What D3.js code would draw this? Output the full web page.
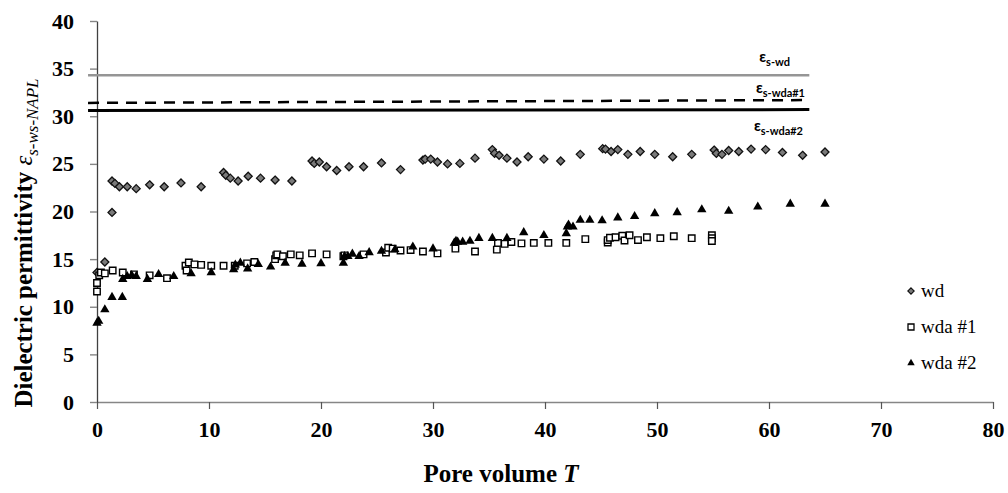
<!DOCTYPE html>
<html>
<head>
<meta charset="utf-8">
<script src="https://cdn.jsdelivr.net/npm/d3@7"></script>
<style>
  body { margin: 0; background: #fff; }
  svg { display: block; }
  .serif { font-family: "Liberation Serif", "Tinos", "DejaVu Serif", "Noto Serif", serif; }
</style>
</head>
<body>
<div id="chart"></div>
<script>
var width = 1008;
var height = 493;

// series: wd (grey diamonds)
var wdX = [0, 0.7, 1.34, 1.34, 1.6, 2.0, 2.7, 3.5, 4.7, 6.0, 7.5, 9.3, 11.3, 11.5, 11.9, 12.6, 13.5, 14.6, 15.9, 17.4,
           19.2, 19.4, 19.85, 20.5, 21.4, 22.5, 23.8, 25.4, 27.1, 29.1, 29.3, 29.8, 30.4, 31.3, 32.4, 33.75,
           35.3, 35.5, 35.9, 36.6, 37.5, 38.5, 39.9, 41.4, 43.15, 45.15, 45.4, 45.9, 46.5, 47.4, 48.5, 49.8,
           51.4, 53.1, 55.1, 55.3, 55.8, 56.4, 57.3, 58.4, 59.7, 61.2, 63.0, 65.0];
var wdY = [13.6, 14.7, 19.9, 23.2, 22.95, 22.6, 22.6, 22.4, 22.8, 22.6, 23.0, 22.6, 24.1, 23.8, 23.5, 23.2, 23.7, 23.5, 23.3, 23.2,
           25.3, 25.05, 25.2, 24.7, 24.3, 24.7, 24.7, 25.1, 24.4, 25.4, 25.5, 25.5, 25.2, 25.0, 25.05, 25.6,
           26.5, 26.1, 25.9, 25.6, 25.2, 25.75, 25.5, 25.3, 26.0, 26.6, 26.55, 26.3, 26.5, 26.0, 26.3, 26.0,
           25.75, 26.0, 26.45, 26.1, 26.0, 26.4, 26.3, 26.55, 26.5, 26.2, 25.9, 26.25];

// series: wda #1 (open squares)
var wda1X = [0, 0, 0.2, 0.35, 0.7, 1.4, 2.3, 3.3, 4.7, 6.25, 7.9, 8.0, 8.2, 8.7, 9.3, 10.2, 11.3, 12.3, 13.4, 14.05,
             15.9, 16.0, 16.1, 16.6, 17.3, 18.1, 19.2, 20.5, 22.0, 22.1, 23.8, 25.8, 26.0, 26.4, 27.1, 28.0, 29.1,
             30.4, 32.0, 33.75, 35.7, 35.8, 36.4, 37.0, 37.9, 39.0, 40.3, 41.9, 43.6, 45.6, 45.6, 45.8, 46.3, 46.9,
             47.1, 47.55, 48.3, 49.1, 50.3, 51.5, 53.1, 54.9, 54.9, 54.9];
var wda1Y = [11.6, 12.5, 13.3, 13.6, 13.5, 13.8, 13.6, 13.4, 13.3, 13.0, 14.3, 13.8, 14.65, 14.45, 14.4, 14.3, 14.3, 14.3, 14.55, 14.7,
             15.0, 15.4, 15.5, 15.3, 15.5, 15.4, 15.6, 15.5, 15.3, 15.4, 15.5, 15.7, 16.2, 16.1, 15.9, 15.95, 15.8,
             15.6, 16.1, 15.8, 16.0, 16.7, 16.6, 16.8, 16.65, 16.7, 16.7, 16.7, 17.1, 16.75, 17.0, 17.25, 17.3, 17.45,
             16.95, 17.5, 17.0, 17.3, 17.2, 17.4, 17.2, 17.5, 17.2, 16.9];

// series: wda #2 (black triangles)
var wda2X = [0, 0.15, 0.7, 1.34, 2.26, 2.3, 2.7, 3.1, 3.5, 4.5, 5.5, 6.85, 8.4, 10.2, 12.2, 12.35, 12.8, 13.45, 14.4, 15.5,
             16.8, 18.3, 20.0, 22.0, 22.1, 22.4, 22.8, 23.4, 24.3, 25.4, 26.6, 28.2, 30.0, 31.9, 32.05, 32.2, 32.65,
             33.3, 34.1, 35.3, 36.6, 38.1, 39.9, 41.9, 42.0, 42.1, 42.5, 43.15, 44.0, 45.1, 46.5, 48.0, 49.8, 51.8,
             54.0, 56.4, 59.0, 61.9, 65.0];
var wda2Y = [8.4, 8.6, 9.8, 11.1, 11.1, 13.0, 13.3, 13.4, 13.3, 13.0, 13.5, 13.3, 13.6, 13.7, 14.0, 14.5, 14.7, 14.1, 14.55, 14.3,
             14.7, 14.6, 14.65, 14.7, 15.4, 15.4, 15.65, 15.4, 15.8, 15.95, 16.1, 16.4, 16.2, 16.8, 17.0, 16.9, 16.9,
             17.0, 17.3, 17.3, 17.3, 17.9, 17.6, 17.8, 18.5, 18.7, 18.5, 19.2, 19.2, 19.15, 19.45, 19.6, 19.9, 20.0,
             20.3, 20.15, 20.6, 20.9, 20.9];

// reference levels (start/end value), from left to right end of line
var refNames = ["s-wd", "s-wda#1", "s-wda#2"];
var refStart = [34.3, 31.4, 30.6];
var refEnd = [34.3, 31.7, 30.7];
var refRange = [-0.8, 63.6];

var xTicks = [0, 10, 20, 30, 40, 50, 60, 70, 80];
var yTicks = [0, 5, 10, 15, 20, 25, 30, 35, 40];
var legendNames = ["wd", "wda #1", "wda #2"];

var svg = d3.select("#chart")
    .append("svg")
    .attr("width", width)
    .attr("height", height);

var x = d3.scaleLinear().domain([0, 80]).range([97, 993]);
var y = d3.scaleLinear().domain([0, 40]).range([402, 21]);

// axes
var xAxis = svg.append("g")
    .attr("transform", "translate(0," + y(0) + ")")
    .call(d3.axisBottom(x).tickValues(xTicks).tickSize(7).tickSizeOuter(0).tickPadding(12));
xAxis.attr("font-family", null).attr("class", "serif");
xAxis.select(".domain").attr("stroke", "#868686").attr("stroke-width", 1.6);
xAxis.selectAll(".tick line").attr("stroke", "#555").attr("stroke-width", 1.2);
xAxis.selectAll(".tick text")
    .attr("fill", "#000")
    .style("font-weight", "bold")
    .style("font-size", "22px");

var yAxis = svg.append("g")
    .attr("transform", "translate(" + x(0) + ",0)")
    .call(d3.axisLeft(y).tickValues(yTicks).tickSize(7).tickSizeOuter(0).tickPadding(16));
yAxis.attr("font-family", null).attr("class", "serif");
yAxis.select(".domain").attr("stroke", "#404040").attr("stroke-width", 1.3);
yAxis.selectAll(".tick line").attr("stroke", "#868686").attr("stroke-width", 1.4);
yAxis.selectAll(".tick text")
    .attr("fill", "#000")
    .style("font-weight", "bold")
    .style("font-size", "22px");

// reference lines
var refStyles = [
    {stroke: "#959595", width: 2.5, dash: null},
    {stroke: "#000", width: 2.5, dash: "11,8"},
    {stroke: "#000", width: 3, dash: null}
];
refNames.forEach(function(n, i){
    svg.append("line")
        .attr("x1", x(refRange[0])).attr("x2", x(refRange[1]))
        .attr("y1", y(refStart[i])).attr("y2", y(refEnd[i]))
        .attr("stroke", refStyles[i].stroke)
        .attr("stroke-width", refStyles[i].width)
        .attr("stroke-dasharray", refStyles[i].dash);
});

// reference labels
var labelPos = [[790, 62], [805, 93], [803, 131]];
refNames.forEach(function(n, i){
    var t = svg.append("text")
        .attr("x", labelPos[i][0])
        .attr("y", labelPos[i][1])
        .attr("text-anchor", "end")
        .style("font-family", "Lato, 'Open Sans', sans-serif")
        .style("font-weight", "bold");
    t.append("tspan").style("font-size", "15px").text("ε");
    t.append("tspan").attr("dy", 4).style("font-size", "11px").text(n);
});

// markers
var diamond = "M0,-4L4,0L0,4L-4,0Z";
var square = d3.symbol().type(d3.symbolSquare).size(42);
var triangle = d3.symbol().type(d3.symbolTriangle).size(38);

svg.append("g").selectAll("path")
    .data(wdX.map(function(d, i){ return [d, wdY[i]]; }))
    .enter().append("path")
    .attr("transform", function(d){ return "translate(" + x(d[0]) + "," + y(d[1]) + ")"; })
    .attr("d", diamond)
    .attr("fill", "#7a7a7a")
    .attr("stroke", "#111")
    .attr("stroke-width", 1.3);

svg.append("g").selectAll("path")
    .data(wda1X.map(function(d, i){ return [d, wda1Y[i]]; }))
    .enter().append("path")
    .attr("transform", function(d){ return "translate(" + x(d[0]) + "," + y(d[1]) + ")"; })
    .attr("d", square)
    .attr("fill", "#fff")
    .attr("stroke", "#000")
    .attr("stroke-width", 1.4);

svg.append("g").selectAll("path")
    .data(wda2X.map(function(d, i){ return [d, wda2Y[i]]; }))
    .enter().append("path")
    .attr("transform", function(d){ return "translate(" + x(d[0]) + "," + (y(d[1]) + 1) + ")"; })
    .attr("d", triangle)
    .attr("fill", "#000");

// legend
var legendY = [291, 327, 363];
var legendSym = [
    function(g){ g.append("path").attr("d", "M0,-3.2L3.2,0L0,3.2L-3.2,0Z").attr("fill", "#7a7a7a").attr("stroke", "#111").attr("stroke-width", 1.1); },
    function(g){ g.append("path").attr("d", d3.symbol().type(d3.symbolSquare).size(36)).attr("fill", "#fff").attr("stroke", "#000").attr("stroke-width", 1.3); },
    function(g){ g.append("path").attr("d", d3.symbol().type(d3.symbolTriangle).size(24)).attr("fill", "#000"); }
];
legendNames.forEach(function(n, i){
    var g = svg.append("g").attr("transform", "translate(911," + legendY[i] + ")");
    legendSym[i](g);
    svg.append("text")
        .attr("class", "serif")
        .attr("x", 921)
        .attr("y", legendY[i] + 6)
        .style("font-size", "19px")
        .text(n);
});

// axis titles (squeezed horizontally to the width of the original serif title)
var yt = svg.append("text")
    .attr("class", "serif")
    .attr("text-anchor", "middle")
    .style("font-weight", "bold")
    .style("font-size", "25px");
yt.append("tspan").text("Dielectric permittivity ");
yt.append("tspan").style("font-style", "italic").style("font-weight", "normal").text("ε");
yt.append("tspan").attr("dy", 6).style("font-style", "italic").style("font-weight", "normal").style("font-size", "17px").text("s-ws-NAPL");
var ytLen = yt.node().getComputedTextLength();
var ytScale = Math.min(1, 329 / ytLen);
yt.attr("transform", "translate(32,243) rotate(-90) scale(" + ytScale + ",1)");

var xt = svg.append("text")
    .attr("class", "serif")
    .attr("x", 501)
    .attr("y", 482)
    .attr("text-anchor", "middle")
    .style("font-weight", "bold")
    .style("font-size", "25px");
xt.append("tspan").text("Pore volume ");
xt.append("tspan").style("font-style", "italic").text("T");
</script>
</body>
</html>
